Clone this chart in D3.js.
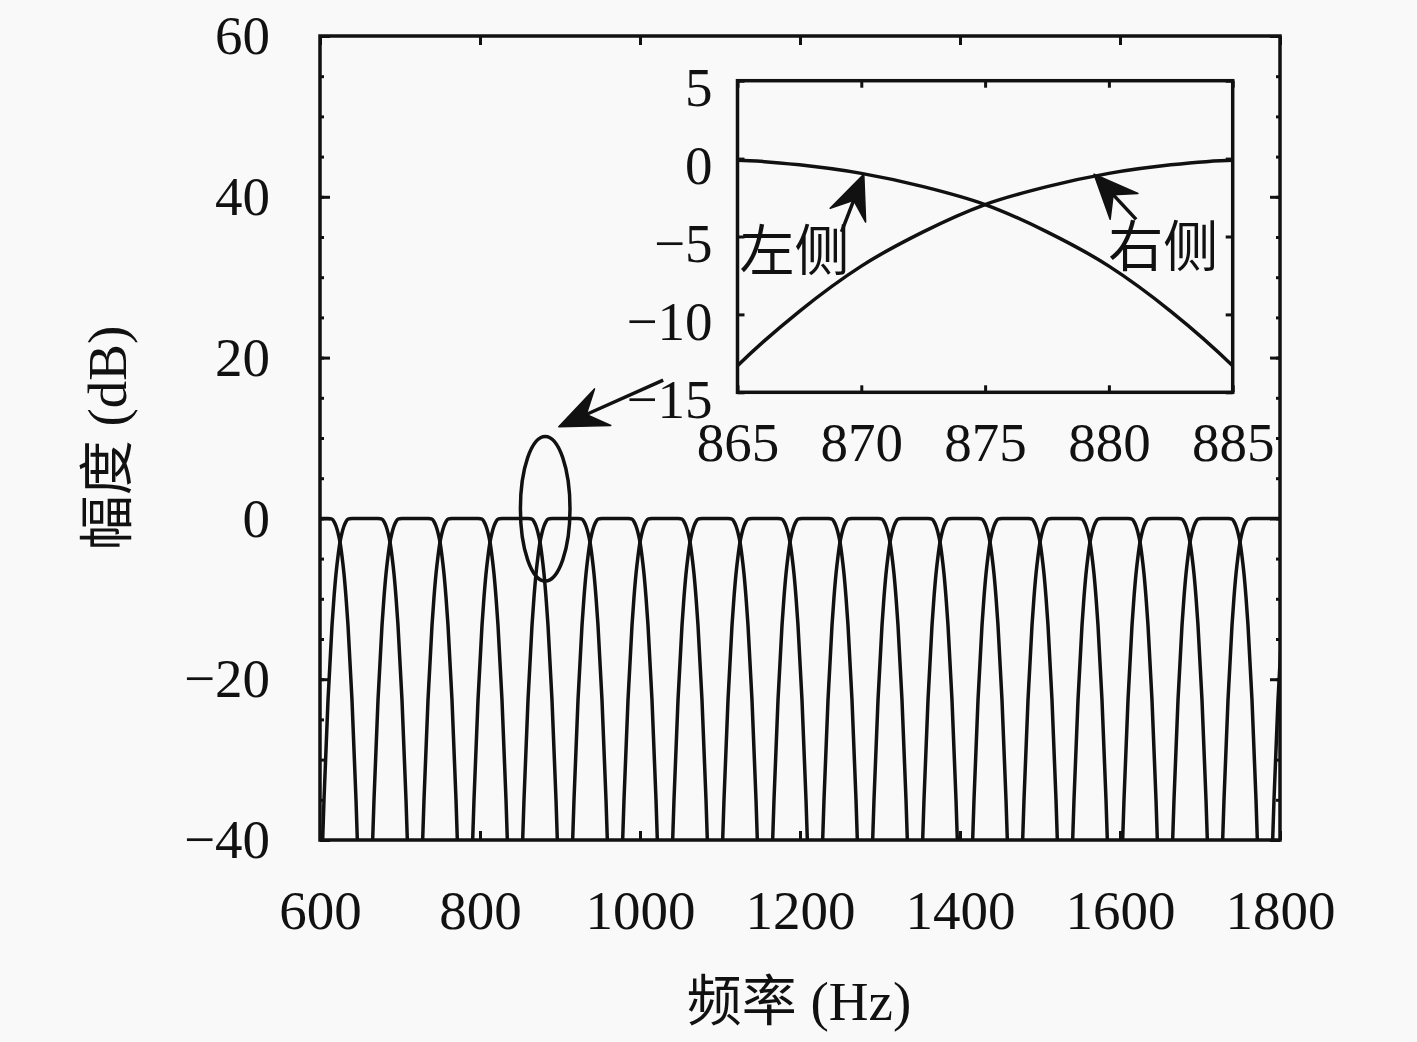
<!DOCTYPE html>
<html>
<head>
<meta charset="utf-8">
<script src="https://cdn.jsdelivr.net/npm/d3@7"></script>
<style>
  body { margin: 0; background: #f9f9f9; }
  .num { font-family: "Liberation Serif", "DejaVu Serif", serif; font-size: 55px; fill: #111; }
  .cjk { font-family: "Noto Sans CJK SC", sans-serif; }
</style>
</head>
<body>
<div id="wrapper"></div>
<script>
// channel centres (Hz), read from the crossing points of the bank
const filterCenters = [593.75, 656.25, 718.75, 781.25, 843.75, 906.25, 968.75, 1031.25,
  1093.75, 1156.25, 1218.75, 1281.25, 1343.75, 1406.25, 1468.75, 1531.25, 1593.75,
  1656.25, 1718.75, 1781.25, 1843.75]

// one skirt of a channel: distance from centre (Hz) and gain (dB)
const edgeOffset = [0, 11.25, 16.25, 21.25, 23.75, 26.25, 28.75, 31.25, 33.75, 36.25, 38.75, 41.25, 46.25, 51.25, 55.25]
const edgeDb = [0, 0, -0.02, -0.1, -0.4, -0.95, -1.8, -2.95, -4.7, -6.9, -9.8, -13.3, -22.6, -35, -47]

const xTicks = [600, 800, 1000, 1200, 1400, 1600, 1800]
const yTicks = [60, 40, 20, 0, -20, -40]
const yMinorTicks = d3.range(-40, 61, 5)
const insetXTicks = [865, 870, 875, 880, 885]
const insetYTicks = [5, 0, -5, -10, -15]

const minus = s => String(s).replace("-", "\u2212")

let dimensions = {
  width: 1417,
  height: 1042,
  margin: { top: 36, left: 320 },
  boundedWidth: 960,
  boundedHeight: 804,
  inset: { left: 737.5, top: 80.7, width: 495.2, height: 311.6 }
}

const svg = d3.select("#wrapper")
  .append("svg")
  .attr("width", dimensions.width)
  .attr("height", dimensions.height)

const xScale = d3.scaleLinear().domain([600, 1800]).range([0, dimensions.boundedWidth])
const yScale = d3.scaleLinear().domain([-40, 60]).range([dimensions.boundedHeight, 0])

const channel = c => {
  const left = edgeOffset.map((o, i) => [c - o, edgeDb[i]]).reverse()
  const right = edgeOffset.map((o, i) => [c + o, edgeDb[i]]).slice(1)
  return left.concat(right)
}

// arrow with a notched filled head, given tail and tip in pixels
function arrow(g, tail, tip, len, halfW, notch) {
  const dx = tip[0] - tail[0], dy = tip[1] - tail[1]
  const L = Math.hypot(dx, dy)
  const ux = dx / L, uy = dy / L, nx = -uy, ny = ux
  const b = [tip[0] - ux * len, tip[1] - uy * len]
  const nt = [tip[0] - ux * notch, tip[1] - uy * notch]
  g.append("line")
    .attr("x1", tail[0]).attr("y1", tail[1])
    .attr("x2", nt[0]).attr("y2", nt[1])
    .attr("stroke", "#111").attr("stroke-width", 3.5)
  g.append("path")
    .attr("d", `M${tip[0]},${tip[1]}L${b[0] + nx * halfW},${b[1] + ny * halfW}L${nt[0]},${nt[1]}L${b[0] - nx * halfW},${b[1] - ny * halfW}Z`)
    .attr("fill", "#111")
    .attr("stroke", "#111")
    .attr("stroke-width", 1.5)
    .attr("stroke-linejoin", "round")
}

// ---------- main plot ----------
const bounds = svg.append("g")
  .attr("transform", `translate(${dimensions.margin.left},${dimensions.margin.top})`)

bounds.append("clipPath").attr("id", "clip")
  .append("rect")
  .attr("width", dimensions.boundedWidth)
  .attr("height", dimensions.boundedHeight)

const lineGenerator = d3.line()
  .x(d => xScale(d[0]))
  .y(d => yScale(d[1]))
  .curve(d3.curveMonotoneX)

bounds.append("g")
  .attr("clip-path", "url(#clip)")
  .selectAll("path")
  .data(filterCenters)
  .join("path")
  .attr("d", c => lineGenerator(channel(c)))
  .attr("fill", "none")
  .attr("stroke", "#111")
  .attr("stroke-width", 3.5)

// axes (ticks inward)
const noDomain = g => g.select(".domain").remove()
const numText = g => g.selectAll("text").attr("class", "num").attr("font-size", null).attr("font-family", null)

bounds.append("g")
  .attr("transform", `translate(0,${dimensions.boundedHeight})`)
  .call(d3.axisBottom(xScale).tickValues(xTicks).tickSize(-9).tickSizeOuter(0).tickPadding(50).tickFormat(d3.format("d")))
  .call(noDomain)
  .call(numText)

bounds.append("g")
  .call(d3.axisTop(xScale).tickValues(xTicks).tickSize(-9).tickSizeOuter(0).tickFormat(""))
  .call(noDomain)

bounds.append("g")
  .call(d3.axisLeft(yScale).tickValues(yTicks).tickSize(-10).tickSizeOuter(0).tickPadding(50).tickFormat(minus))
  .call(noDomain)
  .call(numText)

bounds.append("g")
  .call(d3.axisLeft(yScale).tickValues(yMinorTicks).tickSize(-4).tickSizeOuter(0).tickFormat(""))
  .call(noDomain)

bounds.append("g")
  .attr("transform", `translate(${dimensions.boundedWidth},0)`)
  .call(d3.axisRight(yScale).tickValues(yTicks).tickSize(-10).tickSizeOuter(0).tickFormat(""))
  .call(noDomain)

bounds.append("g")
  .attr("transform", `translate(${dimensions.boundedWidth},0)`)
  .call(d3.axisRight(yScale).tickValues(yMinorTicks).tickSize(-4).tickSizeOuter(0).tickFormat(""))
  .call(noDomain)

bounds.selectAll(".tick line").attr("stroke", "#111").attr("stroke-width", 3)

bounds.append("rect")
  .attr("width", dimensions.boundedWidth)
  .attr("height", dimensions.boundedHeight)
  .attr("fill", "none")
  .attr("stroke", "#111")
  .attr("stroke-width", 3.5)

// ellipse round the 875 Hz crossing
bounds.append("ellipse")
  .attr("cx", xScale(881.5))
  .attr("cy", yScale(1.2))
  .attr("rx", xScale(881.5 + 31) - xScale(881.5))
  .attr("ry", yScale(0) - yScale(9))
  .attr("fill", "none")
  .attr("stroke", "#111")
  .attr("stroke-width", 3.5)

arrow(bounds, [xScale(1029), yScale(17.2)], [xScale(898.5), yScale(11.4)], 48, 20, 30)

// axis titles
svg.append("text")
  .attr("class", "num")
  .attr("x", 799)
  .attr("y", 1020)
  .attr("text-anchor", "middle")
  .call(t => t.append("tspan").attr("class", "cjk").text("频率"))
  .call(t => t.append("tspan").text(" (Hz)"))

svg.append("text")
  .attr("class", "num")
  .attr("transform", "translate(126,438) rotate(-90)")
  .attr("text-anchor", "middle")
  .call(t => t.append("tspan").attr("class", "cjk").text("幅度"))
  .call(t => t.append("tspan").text(" (dB)"))

// ---------- inset ----------
const ins = dimensions.inset
const ix = d3.scaleLinear().domain([865, 885]).range([0, ins.width])
const iy = d3.scaleLinear().domain([-15, 5]).range([ins.height, 0])

const inset = svg.append("g")
  .attr("transform", `translate(${ins.left},${ins.top})`)

inset.append("rect")
  .attr("width", ins.width).attr("height", ins.height)
  .attr("fill", "#f9f9f9")

inset.append("clipPath").attr("id", "clip-inset")
  .append("rect").attr("width", ins.width).attr("height", ins.height)

const insetLine = d3.line()
  .x(d => ix(d[0]))
  .y(d => iy(d[1]))
  .curve(d3.curveMonotoneX)

inset.append("g")
  .attr("clip-path", "url(#clip-inset)")
  .selectAll("path")
  .data(filterCenters.filter(c => c > 800 && c < 950))
  .join("path")
  .attr("d", c => insetLine(channel(c)))
  .attr("fill", "none")
  .attr("stroke", "#111")
  .attr("stroke-width", 3.5)

inset.append("g")
  .attr("transform", `translate(0,${ins.height})`)
  .call(d3.axisBottom(ix).tickValues(insetXTicks).tickSize(-7).tickSizeOuter(0).tickPadding(30))
  .call(noDomain)
  .call(numText)

inset.append("g")
  .call(d3.axisTop(ix).tickValues(insetXTicks).tickSize(-7).tickSizeOuter(0).tickFormat(""))
  .call(noDomain)

inset.append("g")
  .call(d3.axisLeft(iy).tickValues(insetYTicks).tickSize(-7).tickSizeOuter(0).tickPadding(25).tickFormat(minus))
  .call(noDomain)
  .call(numText)
  .call(g => g.selectAll("text").attr("dy", "0.45em"))

inset.append("g")
  .attr("transform", `translate(${ins.width},0)`)
  .call(d3.axisRight(iy).tickValues(insetYTicks).tickSize(-7).tickSizeOuter(0).tickFormat(""))
  .call(noDomain)

inset.selectAll(".tick line").attr("stroke", "#111").attr("stroke-width", 3)

inset.append("rect")
  .attr("width", ins.width).attr("height", ins.height)
  .attr("fill", "none")
  .attr("stroke", "#111")
  .attr("stroke-width", 3.5)

// side labels and arrows
inset.append("text")
  .attr("class", "num cjk")
  .attr("x", ix(867.3)).attr("y", iy(-5.9))
  .attr("text-anchor", "middle")
  .attr("dy", "0.36em")
  .text("左侧")

inset.append("text")
  .attr("class", "num cjk")
  .attr("x", ix(882.2)).attr("y", iy(-5.6))
  .attr("text-anchor", "middle")
  .attr("dy", "0.36em")
  .text("右侧")

arrow(inset, [ix(869.2), iy(-4.7)], [ix(870.1), iy(-1.0)], 44, 19, 28)
arrow(inset, [ix(881.1), iy(-3.9)], [ix(879.4), iy(-1.0)], 44, 19, 28)
</script>
</body>
</html>
